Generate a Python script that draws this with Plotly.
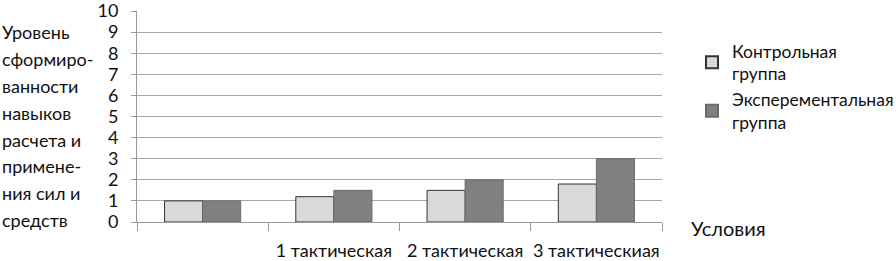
import plotly.graph_objects as go

categories = [" ", "1 тактическая", "2 тактическая", "3 тактическиая"]
control = [1.0, 1.2, 1.5, 1.8]
experimental = [1.0, 1.5, 2.0, 3.0]
series_names = ["Контрольная<br>группа", "Эксперементальная<br>группа"]
y_title_lines = ["Уровень", "сформиро-", "ванности", "навыков", "расчета и",
                 "примене-", "ния сил и", "средств"]
x_title = "Условия"

FONT = "Lato"
W, H = 896, 261
L, R, T, B = 137, 234, 11, 39
PW, PH = W - L - R, H - T - B

fig = go.Figure()
fig.add_trace(go.Bar(x=categories, y=control, name=series_names[0],
                     marker=dict(color="#d9d9d9", line=dict(color="#333333", width=1))))
fig.add_trace(go.Bar(x=categories, y=experimental, name=series_names[1],
                     marker=dict(color="#808080", line=dict(color="#6a6a6a", width=1))))

fig.update_layout(
    width=W, height=H,
    margin=dict(l=L, r=R, t=T, b=B, autoexpand=False),
    paper_bgcolor="white", plot_bgcolor="white",
    font=dict(family=FONT, size=18, color="#111111"),
    barmode="group", bargap=0.42, bargroupgap=0,
    showlegend=True,
    legend=dict(x=(692 - L) / PW, y=(H - B - 33) / PH, xanchor="left", yanchor="top",
                font=dict(size=17.5), tracegroupgap=10, itemsizing="constant",
                itemwidth=30, bgcolor="rgba(0,0,0,0)"),
    xaxis=dict(type="category", showgrid=False, showline=True, linecolor="#999999",
               ticks="outside", tickson="boundaries", ticklen=8, tickcolor="#999999",
               tickfont=dict(size=18), ticklabelstandoff=12, tickangle=0),
    yaxis=dict(range=[0, 10], dtick=1, showgrid=True, gridcolor="#a6a6a6",
               showline=True, linecolor="#999999", ticks="outside", ticklen=5,
               tickcolor="#999999", tickfont=dict(size=18), zeroline=False,
               ticklabelstandoff=9, ticklabeloverflow="allow"),
)

y_line_pos = [32, 59, 86, 113, 140, 166, 193, 220]
for txt, yp in zip(y_title_lines, y_line_pos):
    fig.add_annotation(text=txt, xref="paper", yref="paper",
                       x=-L / PW, y=(H - B - yp) / PH, xanchor="left", yanchor="middle",
                       showarrow=False, align="left", font=dict(size=18))
fig.add_annotation(text=x_title, xref="paper", yref="paper",
                   x=(689 - L) / PW, y=(H - B - 228) / PH, xanchor="left", yanchor="middle",
                   showarrow=False, font=dict(size=20))

fig.write_html("out.html", post_script="document.body.style.margin='0';",
               config={"displayModeBar": False})
